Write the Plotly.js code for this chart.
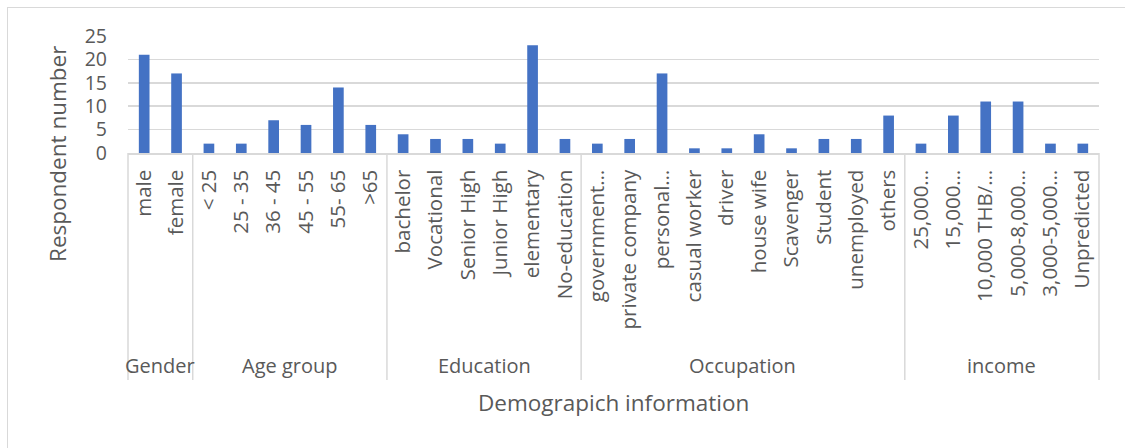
<!DOCTYPE html>
<html>
<head>
<meta charset="utf-8">
<script src="https://cdn.plot.ly/plotly-3.0.1.min.js"></script>
<style>
  html, body { margin: 0; padding: 0; background: #ffffff; }
  #wrap { position: relative; width: 1125px; height: 448px; overflow: hidden; }
  #chart { position: absolute; left: 0; top: 0; width: 1125px; height: 448px; }
  #frame { position: absolute; left: 7px; top: 7px; width: 1140px; height: 460px;
           border: 1.5px solid #D9D9D9; pointer-events: none; }
</style>
</head>
<body>
<div id="wrap">
  <div id="chart"></div>
  <div id="frame"></div>
</div>
<script>
// Respondent counts by demographic group
const groupNames = ['Gender', 'Age group', 'Education', 'Occupation', 'income'];

const genderLabels = ['male', 'female'];
const genderValues = [21, 17];

const ageLabels = ['< 25', '25 - 35', '36 - 45', '45 - 55', '55- 65', '>65'];
const ageValues = [2, 2, 7, 6, 14, 6];

const educationLabels = ['bachelor', 'Vocational', 'Senior High', 'Junior High', 'elementary', 'No-education'];
const educationValues = [4, 3, 3, 2, 23, 3];

const occupationLabels = ['government…', 'private company', 'personal…', 'casual worker', 'driver',
                          'house wife', 'Scavenger', 'Student', 'unemployed', 'others'];
const occupationValues = [2, 3, 17, 1, 1, 4, 1, 3, 3, 8];

const incomeLabels = ['25,000…', '15,000…', '10,000 THB/…', '5,000-8,000…', '3,000-5,000…', 'Unpredicted'];
const incomeValues = [2, 8, 11, 11, 2, 2];

const yTickValues = [0, 5, 10, 15, 20, 25];

const groupLabelSets = [genderLabels, ageLabels, educationLabels, occupationLabels, incomeLabels];
const groupValueSets = [genderValues, ageValues, educationValues, occupationValues, incomeValues];

// Flatten groups into one category sequence
const labels = [].concat(...groupLabelSets);
const values = [].concat(...groupValueSets);
const xIdx = labels.map((_, i) => i);
const n = labels.length;

// Geometry of the plotting area (pixels)
const W = 1125, H = 448;
const M = { l: 128, r: 26, t: 36, b: 295 };
const plotW = W - M.l - M.r;
const plotH = H - M.t - M.b;
const xRange = [-0.5, n - 0.5];
const px2paperX = p => (p - M.l) / plotW;
const px2paperY = p => (H - M.b - p) / plotH;
const idx2paperX = v => (v - xRange[0]) / (xRange[1] - xRange[0]);

const textColor = '#595959';
const lineColor = '#D9D9D9';
const font = 'Open Sans, Noto Sans, sans-serif';

// Group dividers and group captions under the category labels
const shapes = [];
const annotations = [];
const dividerBottom = px2paperY(380);
let start = 0;
const bounds = [-0.5];
groupLabelSets.forEach((set, g) => {
  const end = start + set.length;
  bounds.push(end - 0.5);
  annotations.push({
    xref: 'paper', yref: 'paper',
    x: idx2paperX((start + end - 1) / 2), y: px2paperY(366),
    xanchor: 'center', yanchor: 'middle',
    text: groupNames[g], showarrow: false,
    font: { family: font, size: 20, color: textColor }
  });
  start = end;
});
bounds.forEach(b => {
  shapes.push({
    type: 'line', xref: 'paper', yref: 'paper',
    x0: idx2paperX(b), x1: idx2paperX(b), y0: 0, y1: dividerBottom,
    line: { color: lineColor, width: 1.5 }
  });
});

// Axis titles
annotations.push({
  xref: 'paper', yref: 'paper',
  x: px2paperX(57), y: px2paperY(154),
  xanchor: 'center', yanchor: 'middle', textangle: -90,
  text: 'Respondent number', showarrow: false,
  font: { family: font, size: 22.5, color: textColor }
});
annotations.push({
  xref: 'paper', yref: 'paper',
  x: px2paperX(613), y: px2paperY(402),
  xanchor: 'center', yanchor: 'middle',
  text: 'Demograpich information', showarrow: false,
  font: { family: font, size: 22.5, color: textColor }
});

const trace = {
  type: 'bar',
  x: xIdx,
  y: values,
  marker: { color: '#4472C4', line: { width: 0 } },
  hoverinfo: 'x+y'
};

const layout = {
  width: W, height: H,
  margin: M,
  paper_bgcolor: '#ffffff',
  plot_bgcolor: '#ffffff',
  showlegend: false,
  bargap: 0.67,
  font: { family: font, color: textColor },
  xaxis: {
    range: xRange,
    tickmode: 'array',
    tickvals: xIdx,
    ticktext: labels,
    tickangle: -90,
    tickfont: { family: font, size: 20.5, color: textColor },
    ticks: '',
    ticklabelstandoff: 7,
    showgrid: false,
    zeroline: false,
    showline: true,
    linecolor: lineColor,
    linewidth: 1.5,
    automargin: false,
    fixedrange: true
  },
  yaxis: {
    range: [0, 25],
    tickmode: 'array',
    tickvals: yTickValues,
    ticktext: yTickValues.map(String),
    tickfont: { family: font, size: 19.5, color: textColor },
    ticks: '',
    ticklabelstandoff: 20,
    showgrid: true,
    gridcolor: lineColor,
    gridwidth: 1.5,
    zeroline: false,
    showline: false,
    automargin: false,
    fixedrange: true
  },
  shapes: shapes,
  annotations: annotations
};

Plotly.newPlot('chart', [trace], layout, { displayModeBar: false, staticPlot: true });
</script>
</body>
</html>
